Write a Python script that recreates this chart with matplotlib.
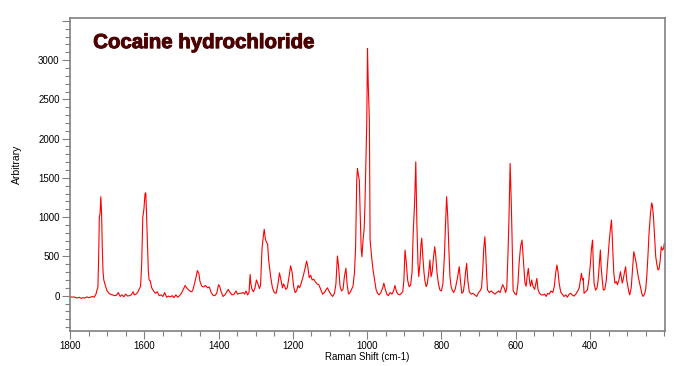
import matplotlib
matplotlib.use("Agg")
import matplotlib.pyplot as plt
import matplotlib.patheffects as pe
from matplotlib.ticker import MultipleLocator, FixedLocator, FixedFormatter

# Raman shift (cm-1), descending
shift = [
    1800, 1795, 1790, 1785, 1780, 1775, 1770, 1765, 1760, 1755,
    1750, 1745, 1740, 1735, 1730, 1727, 1725, 1723, 1721, 1719,
    1717, 1715, 1713, 1711, 1709, 1705, 1700, 1695, 1690, 1685,
    1680, 1675, 1670, 1665, 1660, 1655, 1650, 1645, 1640, 1635,
    1630, 1627, 1622, 1618, 1614, 1610, 1607, 1604, 1601, 1598,
    1596, 1594, 1591, 1589, 1587, 1584, 1580, 1575, 1570, 1565,
    1560, 1555, 1550, 1545, 1540, 1535, 1530, 1525, 1520, 1515,
    1510, 1505, 1500, 1495, 1490, 1486, 1480, 1475, 1470, 1465,
    1460, 1457, 1453, 1450, 1445, 1440, 1435, 1430, 1425, 1420,
    1415, 1410, 1405, 1400, 1397, 1393, 1388, 1383, 1378, 1374,
    1369, 1364, 1358, 1353, 1349, 1344, 1339, 1334, 1330, 1326,
    1322, 1318, 1315, 1313, 1310, 1306, 1302, 1298, 1294, 1290,
    1287, 1283, 1279, 1277, 1274, 1271, 1268, 1265, 1260, 1255,
    1250, 1245, 1240, 1236, 1232, 1228, 1225, 1222, 1219, 1215,
    1210, 1206, 1202, 1198, 1194, 1190, 1186, 1182, 1178, 1172,
    1167, 1163, 1160, 1156, 1152, 1148, 1144, 1140, 1135, 1130,
    1125, 1120, 1115, 1110, 1107, 1103, 1098, 1093, 1088, 1084,
    1080, 1077, 1073, 1069, 1065, 1061, 1057, 1054, 1050, 1046,
    1042, 1038, 1034, 1031, 1028, 1026, 1024, 1021, 1019, 1016,
    1014, 1011, 1008, 1006, 1003, 1001, 999, 997, 994, 992,
    990, 987, 984, 980, 976, 972, 968, 963, 958, 955,
    951, 947, 943, 938, 933, 929, 925, 921, 917, 912,
    908, 904, 901, 898, 895, 891, 887, 883, 879, 876,
    872, 869, 866, 863, 861, 858, 855, 853, 850, 847,
    844, 841, 838, 834, 831, 828, 825, 821, 818, 815,
    812, 808, 804, 800, 796, 792, 789, 786, 783, 780,
    777, 774, 771, 767, 763, 760, 757, 752, 749, 745,
    741, 738, 735, 732, 729, 725, 720, 715, 710, 705,
    700, 696, 692, 689, 686, 683, 681, 678, 676, 671,
    666, 661, 656, 651, 646, 642, 638, 635, 631, 627,
    624, 621, 618, 615, 612, 610, 607, 603, 598, 594,
    591, 587, 583, 580, 577, 575, 572, 569, 566, 562,
    560, 557, 553, 549, 546, 543, 540, 536, 531, 526,
    522, 518, 514, 510, 505, 500, 496, 492, 489, 486,
    483, 479, 475, 470, 465, 461, 456, 452, 448, 443,
    438, 433, 429, 425, 423, 420, 418, 416, 412, 407,
    403, 399, 396, 393, 391, 389, 385, 381, 378, 375,
    372, 370, 367, 364, 360, 356, 352, 348, 345, 342,
    339, 336, 333, 329, 326, 322, 318, 316, 313, 310,
    307, 304, 301, 298, 295, 293, 289, 286, 282, 279,
    275, 272, 270, 266, 263, 260, 257, 253, 250, 247,
    244, 241, 237, 234, 232, 229, 226, 223, 220, 217,
    214, 211, 208, 205, 202, 200,
]

intensity = [
    -10, -20, -15, -25, -30, -20, -35, -25, -30, -15,
    -25, -20, -10, -20, 20, 80, 100, 450, 1000, 1050,
    1260, 1050, 600, 300, 200, 130, 60, 30, 15, 10,
    0, 5, 40, -10, 10, -15, 20, -5, 0, 10,
    50, 10, 20, 40, 80, 120, 400, 1000, 1100, 1300,
    1310, 1050, 600, 300, 200, 190, 100, 60, 30, 50,
    0, 10, -10, 40, -20, -5, -15, 0, -25, 10,
    -20, 0, 30, 80, 130, 100, 70, 50, 60, 150,
    250, 320, 280, 180, 120, 110, 130, 100, 110, 40,
    5, 0, 30, 140, 120, 50, -10, 10, 50, 80,
    40, 10, 20, 60, 20, 30, 30, 40, 20, 60,
    10, 40, 270, 150, 80, 50, 100, 200, 150, 90,
    130, 600, 780, 845, 720, 680, 660, 450, 250, 100,
    40, 30, 150, 290, 200, 100, 150, 120, 80, 100,
    250, 380, 300, 120, 40, 60, 130, 100, 150, 250,
    350, 440, 380, 230, 260, 200, 210, 180, 150, 140,
    80, 20, 40, 80, 100, 60, 20, -10, 30, 150,
    505, 380, 120, 60, 80, 250, 350, 150, 20, 40,
    80, 120, 300, 620, 1470, 1620, 1550, 1470, 1090, 600,
    496, 708, 850, 1132, 1800, 2196, 3147, 2700, 2235, 708,
    600, 450, 327, 200, 80, 30, 10, 40, 100, 160,
    80, 20, 0, 40, 20, 60, 130, 50, 20, 10,
    30, 50, 200, 580, 450, 200, 115, 130, 300, 797,
    1200, 1705, 900, 400, 242, 400, 650, 733, 500, 300,
    178, 115, 150, 300, 454, 242, 300, 500, 623, 500,
    300, 150, 72, 60, 150, 500, 900, 1260, 1010, 600,
    242, 120, 72, 40, 80, 150, 221, 369, 200, 30,
    50, 150, 300, 412, 200, 50, 20, 30, 10, -10,
    40, 60, 100, 300, 600, 751, 580, 250, 72, 40,
    60, 40, 20, 40, 60, 40, 100, 140, 100, 40,
    100, 500, 1000, 1684, 1200, 790, 72, 30, 10, 150,
    400, 623, 708, 500, 300, 160, 120, 250, 348, 160,
    120, 200, 115, 80, 150, 220, 80, 30, 10, 9,
    20, -10, 30, 20, 60, 40, 120, 300, 391, 300,
    160, 50, 20, -10, 10, -20, 20, 30, 10, -5,
    20, 60, 100, 220, 285, 200, 220, 30, 50, 70,
    200, 400, 600, 708, 400, 160, 70, 100, 200, 400,
    581, 370, 200, 70, 80, 200, 450, 700, 850, 963,
    620, 300, 160, 180, 140, 200, 306, 250, 160, 220,
    300, 369, 200, 120, 40, 10, 100, 300, 560, 500,
    400, 300, 240, 150, 80, 20, -10, 20, 80, 250,
    500, 794, 1050, 1180, 1150, 1000, 750, 500, 400, 327,
    340, 450, 623, 580, 600, 660,
]

x_ticks = [1800, 1600, 1400, 1200, 1000, 800, 600, 400]
y_ticks = [0, 500, 1000, 1500, 2000, 2500, 3000, 3500]
y_labels = ["0", "500", "1000", "1500", "2000", "2500", "3000", ""]

plt.rcParams["font.family"] = ["Liberation Sans", "DejaVu Sans"]

fig = plt.figure(figsize=(7, 3.66), dpi=100)
ax = fig.add_axes([0.1, 0.0956, 0.85, 0.855])

ax.plot(shift, intensity, color="#ff0000", lw=0.8)

ax.set_xlim(1800, 198)
ax.set_ylim(-450, 3535)

ax.xaxis.set_major_locator(FixedLocator(x_ticks))
ax.xaxis.set_minor_locator(MultipleLocator(50))
ax.yaxis.set_major_locator(FixedLocator(y_ticks))
ax.yaxis.set_major_formatter(FixedFormatter(y_labels))
ax.yaxis.set_minor_locator(MultipleLocator(100))

for s in ax.spines.values():
    s.set_color("#808080")
    s.set_linewidth(1.2)

ax.tick_params(which="major", length=6, width=0.8, color="#808080",
               labelsize=7, pad=1.5, labelcolor="black")
ax.tick_params(which="minor", length=3.5, width=0.8, color="#808080")

# heavy title, thickened a little with a stroke of the same colour
ax.text(0.039, 0.904, "Cocaine hydrochloride", transform=ax.transAxes,
        fontsize=14.7, fontweight="bold", color="#4d0000", va="baseline",
        path_effects=[pe.withStroke(linewidth=0.7, foreground="#4d0000")])

fig.text(0.525, 0.025, "Raman Shift (cm-1)", ha="center", va="center", fontsize=7)
fig.text(0.024, 0.55, "Arbitrary", ha="center", va="center", rotation=90, fontsize=7.5)

fig.savefig("out.png", dpi=100)
